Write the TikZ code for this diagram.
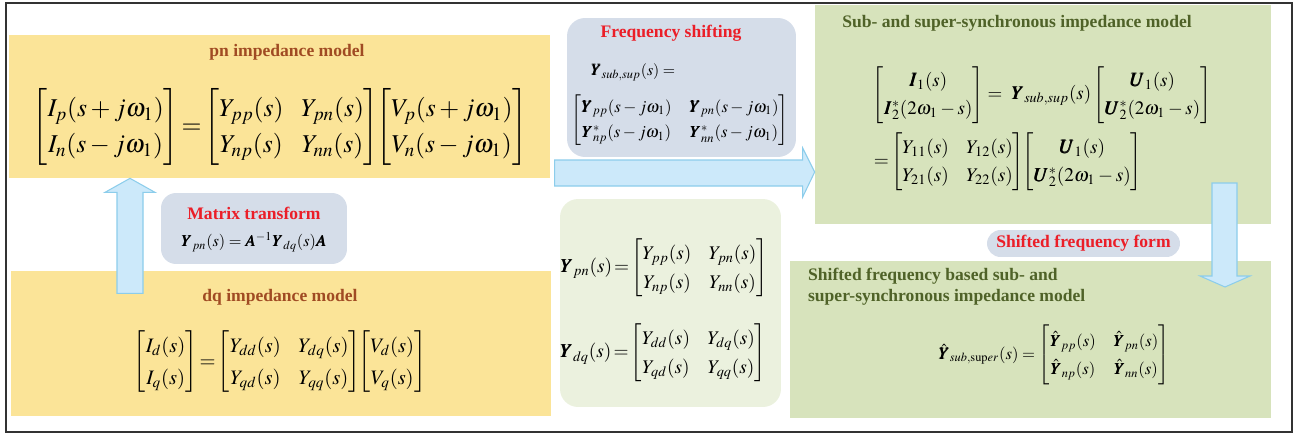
\documentclass[tikz,border=0pt]{standalone}
\usepackage{amsmath}
\usepackage{mathptmx}
\usepackage{bm}
\usepackage[no-math]{fontspec}
\setmainfont{Liberation Serif}
\usepackage{tikz}
\usetikzlibrary{positioning, calc}
\tikzset{
    modelbox/.style={rectangle, fill=#1, inner sep=0pt},
    notebox/.style={rectangle, fill=#1, rounded corners=0.36cm, inner sep=0pt},
    boxtitle/.style={font=\fontsize{10}{12}\selectfont\bfseries, text=#1, inner sep=1pt},
    eqnode/.style 2 args={font=\fontsize{#1}{#2}\selectfont, inner sep=0pt},
    fatarrow/.style={fill=arrowfill, draw=arrowdraw, line width=0.6pt, line join=miter}
}
\definecolor{pnyellow}{RGB}{251,228,152}
\definecolor{subgreen}{RGB}{215,227,188}
\definecolor{defgreen}{RGB}{235,241,222}
\definecolor{notegray}{RGB}{213,221,233}
\definecolor{titlebrown}{RGB}{160,75,35}
\definecolor{titlered}{RGB}{235,30,40}
\definecolor{titlegreen}{RGB}{79,98,40}
\definecolor{arrowfill}{RGB}{204,233,250}
\definecolor{arrowdraw}{RGB}{140,205,235}

\begin{document}
\begin{tikzpicture}[x=0.02cm, y=-0.02cm]

\useasboundingbox (0,0) rectangle (1299,436);
\draw[black!80, line width=0.8pt] (6,3) rectangle (1292,432);

% blocks
\node[modelbox=pnyellow, minimum width=10.82cm, minimum height=2.86cm] (pn) at (279.5,106.5) {};
\node[modelbox=pnyellow, minimum width=10.8cm, minimum height=2.9cm] (dq) at (281,343.5) {};
\node[notebox=notegray, rounded corners=0.3cm, minimum width=3.72cm, minimum height=1.42cm] (mt) at (254,228.5) {};
\node[notebox=notegray, minimum width=4.58cm, minimum height=2.78cm] (fs) at (681.5,87.5) {};
\node[notebox=defgreen, minimum width=4.42cm, minimum height=4.16cm] (defs) at (670.5,303) {};
\node[modelbox=subgreen, minimum width=9.12cm, minimum height=4.38cm] (sub) at (1043,114.5) {};
\node[modelbox=subgreen, minimum width=9.62cm, minimum height=3.14cm] (shf) at (1030.5,339.5) {};
\node[notebox=notegray, rounded corners=0.27cm, minimum width=3.86cm, minimum height=0.54cm,
      boxtitle=titlered] (shform) at (1083.5,243.5) {Shifted frequency form};

% arrows
\coordinate (upx) at (130,0);
\coordinate (rmid) at (0,172);
\coordinate (dntip) at (1225,287);
\draw[fatarrow] (upx |- pn.south) -- ++(25,14) -- ++(-12,0) -- ++(0,101) -- ++(-26,0) -- ++(0,-101) -- ++(-12,0) -- cycle;
\draw[fatarrow] (sub.west |- rmid) -- ++(-12,25) -- ++(0,-11) -- ++(-248,0) -- ++(0,-26) -- ++(248,0) -- ++(0,-12) -- cycle;
\draw[fatarrow] (dntip) -- ++(25,-11) -- ++(-13,0) -- ++(0,-93) -- ++(-25,0) -- ++(0,93) -- ++(-12,0) -- cycle;

% titles
\node[boxtitle=titlebrown] (pntitle) at (287,52) {pn impedance model};
\node[boxtitle=titlebrown] (dqtitle) at (280,297) {dq impedance model};
\node[boxtitle=titlered] (mttitle) at (254,213) {Matrix transform};
\node[boxtitle=titlered] (fstitle) at (671,33) {Frequency shifting};
\node[boxtitle=titlegreen] (subtitle) at (1017,23) {Sub- and super-synchronous impedance model};
\node[boxtitle=titlegreen, anchor=north west, align=left] (shftitle) at (806,266)
  {Shifted frequency based sub- and\\super-synchronous impedance model};

% equations
\node[eqnode={14.6}{20.5}] (pneq) at (280,127) {$\begin{bmatrix} I_p(s+j\omega_1)\\ I_n(s-j\omega_1)\end{bmatrix}
  \!=\!\begin{bmatrix} Y_{pp}(s) & Y_{pn}(s)\\ Y_{np}(s) & Y_{nn}(s)\end{bmatrix}
  \!\!\begin{bmatrix} V_p(s+j\omega_1)\\ V_n(s-j\omega_1)\end{bmatrix}$};
\node[eqnode={11.7}{18}] (dqeq) at (280,362) {$\begin{bmatrix} I_d(s)\\ I_q(s)\end{bmatrix}
  \!=\!\begin{bmatrix} Y_{dd}(s) & Y_{dq}(s)\\ Y_{qd}(s) & Y_{qq}(s)\end{bmatrix}
  \!\!\begin{bmatrix} V_d(s)\\ V_q(s)\end{bmatrix}$};
\node[eqnode={9.3}{11}] (mteq) at (254,242) {$\bm{Y}_{pn}(s)=\bm{A}^{-1}\bm{Y}_{dq}(s)\bm{A}$};
\node[eqnode={9}{11}] (fsleft) at (633,72) {$\bm{Y}_{sub,sup}(s)=$};
\node[eqnode={9.6}{14.5}] (fsmat) at (680,120) {$\begin{bmatrix}\bm{Y}_{pp}(s-j\omega_1) & \bm{Y}_{pn}(s-j\omega_1)\\
  \bm{Y}^*_{np}(s-j\omega_1) & \bm{Y}^*_{nn}(s-j\omega_1)\end{bmatrix}$};
\node[eqnode={11}{16.5}] (ypneq) at (664,268) {$\bm{Y}_{pn}(s)\!=\!\begin{bmatrix} Y_{pp}(s) & Y_{pn}(s)\\ Y_{np}(s) & Y_{nn}(s)\end{bmatrix}$};
\node[eqnode={11}{16.5}] (ydqeq) at (663,353) {$\bm{Y}_{dq}(s)\!=\!\begin{bmatrix} Y_{dd}(s) & Y_{dq}(s)\\ Y_{qd}(s) & Y_{qq}(s)\end{bmatrix}$};
\node[eqnode={10.8}{16}] (subeqa) at (1042,95) {$\begin{bmatrix}\bm{I}_1(s)\\ \bm{I}_2^*(2\omega_1-s)\end{bmatrix}
  =\ \bm{Y}_{sub,sup}(s)\begin{bmatrix}\bm{U}_1(s)\\ \bm{U}_2^*(2\omega_1-s)\end{bmatrix}$};
\node[eqnode={11}{16}] (subeqb) at (1008,162) {$=\!\begin{bmatrix} Y_{11}(s) & Y_{12}(s)\\ Y_{21}(s) & Y_{22}(s)\end{bmatrix}
  \!\!\begin{bmatrix}\bm{U}_1(s)\\ \bm{U}_2^*(2\omega_1-s)\end{bmatrix}$};
\node[eqnode={9.5}{16}] (shfeq) at (1054,355) {$\hat{\bm{Y}}_{sub,\mathrm{sup}er}(s)=\begin{bmatrix}\hat{\bm{Y}}_{pp}(s) & \hat{\bm{Y}}_{pn}(s)\\
  \hat{\bm{Y}}_{np}(s) & \hat{\bm{Y}}_{nn}(s)\end{bmatrix}$};

\end{tikzpicture}
\end{document}
